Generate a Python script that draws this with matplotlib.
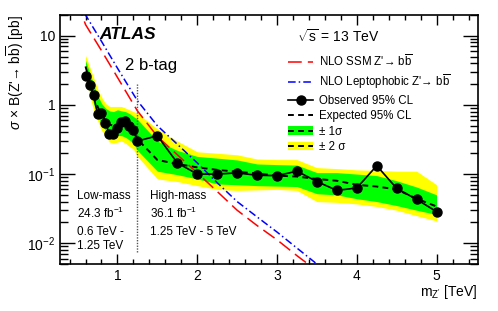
import numpy as np
import matplotlib
matplotlib.use("Agg")
import matplotlib.pyplot as plt
from matplotlib.lines import Line2D
from matplotlib.patches import Patch
from matplotlib.ticker import FixedLocator, LogLocator, NullFormatter, FixedFormatter

plt.rcParams['font.family'] = ['Liberation Sans', 'DejaVu Sans']
plt.rcParams['mathtext.fontset'] = 'custom'
plt.rcParams['mathtext.rm'] = 'Liberation Sans'
plt.rcParams['mathtext.it'] = 'Liberation Sans:italic'
plt.rcParams['mathtext.bf'] = 'Liberation Sans:bold'

# Z' mass points [TeV]: low-mass (0.6-1.25) then high-mass (1.5-5)
mass = [0.6, 0.65, 0.7, 0.75, 0.8, 0.85, 0.9, 0.95, 1.0, 1.05, 1.1, 1.15, 1.2, 1.25,
        1.5, 1.75, 2.0, 2.25, 2.5, 2.75, 3.0, 3.25, 3.5, 3.75, 4.0, 4.25, 4.5, 4.75, 5.0]
observed = [2.65, 1.92, 1.39, 0.74, 0.77, 0.545, 0.38, 0.38, 0.46, 0.575, 0.59, 0.50, 0.43, 0.30,
            0.358, 0.145, 0.100, 0.100, 0.104, 0.096, 0.095, 0.110, 0.078, 0.058, 0.063, 0.132, 0.062, 0.043, 0.0286]
expected = [3.6, 2.2, 1.35, 0.95, 0.72, 0.60, 0.52, 0.50, 0.50, 0.50, 0.48, 0.45, 0.42, 0.32,
            0.16, 0.14, 0.125, 0.115, 0.108, 0.102, 0.095, 0.092, 0.085, 0.080, 0.070, 0.066, 0.060, 0.044, 0.034]
one_sig_up = [4.4, 3.0, 2.0, 1.4, 1.05, 0.90, 0.82, 0.80, 0.85, 0.82, 0.80, 0.75, 0.68, 0.62,
              0.30, 0.22, 0.18, 0.17, 0.16, 0.14, 0.137, 0.135, 0.105, 0.105, 0.100, 0.095, 0.080, 0.065, 0.050]
one_sig_dn = [2.9, 1.7, 1.05, 0.72, 0.52, 0.43, 0.36, 0.35, 0.36, 0.36, 0.34, 0.31, 0.28, 0.22,
              0.11, 0.098, 0.085, 0.072, 0.070, 0.068, 0.067, 0.066, 0.052, 0.050, 0.044, 0.040, 0.035, 0.030, 0.026]
two_sig_up = [5.2, 3.6, 2.5, 1.7, 1.3, 1.05, 0.95, 0.95, 0.95, 0.95, 0.90, 0.85, 0.80, 0.76,
              0.45, 0.30, 0.21, 0.20, 0.19, 0.165, 0.162, 0.162, 0.124, 0.120, 0.115, 0.113, 0.110, 0.110, 0.070]
two_sig_dn = [2.4, 1.4, 0.85, 0.60, 0.43, 0.36, 0.29, 0.28, 0.29, 0.30, 0.28, 0.25, 0.23, 0.18,
              0.085, 0.078, 0.068, 0.060, 0.058, 0.059, 0.060, 0.058, 0.040, 0.039, 0.037, 0.034, 0.030, 0.025, 0.021]

# theory curves
theory_mass = [0.5, 0.6, 0.8, 1.0, 1.25, 1.5, 1.75, 2.0, 2.25, 2.5, 2.75, 3.0, 3.25, 3.5]
ssm_xsec = [30.0, 14.5, 6.1, 2.5, 0.82, 0.35, 0.19, 0.104, 0.056, 0.030, 0.018, 0.0112, 0.0066, 0.004]
lepto_xsec = [38.0, 20.0, 8.3, 3.4, 1.15, 0.50, 0.27, 0.145, 0.075, 0.040, 0.024, 0.0145, 0.0085, 0.0050]

boundary = 1.25
boundary_span = (0.0074, 2.0)

fig = plt.figure(figsize=(4.98, 3.11), dpi=100)
ax = fig.add_axes([0.1205, 0.151, 0.8395, 0.801])

ax.fill_between(mass, two_sig_dn, two_sig_up, color='#ffff00', lw=0)
ax.fill_between(mass, one_sig_dn, one_sig_up, color='#00ff00', lw=0)
ax.plot(mass, expected, color='black', lw=1.4, ls=(0, (3, 2.2)))
ax.plot(theory_mass, ssm_xsec, color='red', lw=1.1, ls=(0, (9, 4)))
ax.plot(theory_mass, lepto_xsec, color='blue', lw=1.1, ls=(0, (5, 2, 1, 2)))
ax.plot([boundary, boundary], boundary_span, color='#555555', lw=1.0, ls=(0, (1, 1)))
ax.plot(mass, observed, color='black', lw=1.2, marker='o', ms=6.5)

ax.set_yscale('log')
ax.set_xlim(0.28, 5.52)
ax.set_ylim(0.005, 20)

ax.xaxis.set_major_locator(FixedLocator([1, 2, 3, 4, 5]))
ax.xaxis.set_minor_locator(FixedLocator(np.arange(0.4, 5.5, 0.2)))
ax.yaxis.set_major_locator(FixedLocator([0.01, 0.1, 1, 10]))
ax.yaxis.set_major_formatter(FixedFormatter(['10$^{-2}$', '10$^{-1}$', '1', '10']))
ax.yaxis.set_minor_locator(LogLocator(base=10, subs=np.arange(2, 10)))
ax.yaxis.set_minor_formatter(NullFormatter())
ax.tick_params(which='both', direction='in', top=True, right=True, labelsize=10)
ax.tick_params(axis='x', which='major', length=7, width=1)
ax.tick_params(axis='x', which='minor', length=3.5, width=1)
ax.tick_params(axis='y', which='major', length=11, width=1)
ax.tick_params(axis='y', which='minor', length=5.5, width=1)
for s in ax.spines.values():
    s.set_linewidth(1.2)

ax.set_ylabel("$\\sigma$ × B(Z'→ b$\\overline{\\mathrm{b}}$) [pb]", loc='top', fontsize=10, labelpad=1)
ax.set_xlabel("m$_{\\mathrm{Z'}}$ [TeV]", loc='right', fontsize=10, labelpad=0)

ax.text(0.095, 0.905, 'ATLAS', transform=ax.transAxes, fontsize=12.5,
        fontweight='bold', fontstyle='italic')
ax.text(0.155, 0.778, '2 b-tag', transform=ax.transAxes, fontsize=12)
ax.text(0.567, 0.89, '$\\sqrt{\\mathrm{s}}$ = 13 TeV', transform=ax.transAxes, fontsize=10)

small = 8.5
ax.text(0.04, 0.26, 'Low-mass', transform=ax.transAxes, fontsize=small)
ax.text(0.04, 0.185, '24.3 fb$^{-1}$', transform=ax.transAxes, fontsize=small)
ax.text(0.04, 0.115, '0.6 TeV -', transform=ax.transAxes, fontsize=small)
ax.text(0.04, 0.062, '1.25 TeV', transform=ax.transAxes, fontsize=small)
ax.text(0.215, 0.26, 'High-mass', transform=ax.transAxes, fontsize=small)
ax.text(0.215, 0.185, '36.1 fb$^{-1}$', transform=ax.transAxes, fontsize=small)
ax.text(0.215, 0.115, '1.25 TeV - 5 TeV', transform=ax.transAxes, fontsize=small)

handles = [
    Line2D([], [], color='red', lw=1.1, ls=(0, (9, 4))),
    Line2D([], [], color='blue', lw=1.1, ls=(0, (5, 2, 1, 2))),
    Line2D([], [], color='black', lw=1.2, marker='o', ms=6.5),
    Line2D([], [], color='black', lw=1.4, ls=(0, (3, 2.2))),
    (Patch(color='#00ff00', lw=0), Line2D([], [], color='black', lw=1.4, ls=(0, (3, 2.2)))),
    (Patch(color='#ffff00', lw=0), Line2D([], [], color='black', lw=1.4, ls=(0, (3, 2.2)))),
]
labels = ["NLO SSM Z'→ b$\\overline{\\mathrm{b}}$",
          "NLO Leptophobic Z'→ b$\\overline{\\mathrm{b}}$",
          'Observed 95% CL', 'Expected 95% CL', '± 1σ', '± 2 σ']
fig.legend(handles, labels, loc='upper left', bbox_to_anchor=(288 / 498, 1 - 53 / 311),
           frameon=False, fontsize=8.3, handlelength=2.2, handletextpad=0.45,
           labelspacing=0.3, borderpad=0, borderaxespad=0)

fig.savefig('out.png', dpi=100)
